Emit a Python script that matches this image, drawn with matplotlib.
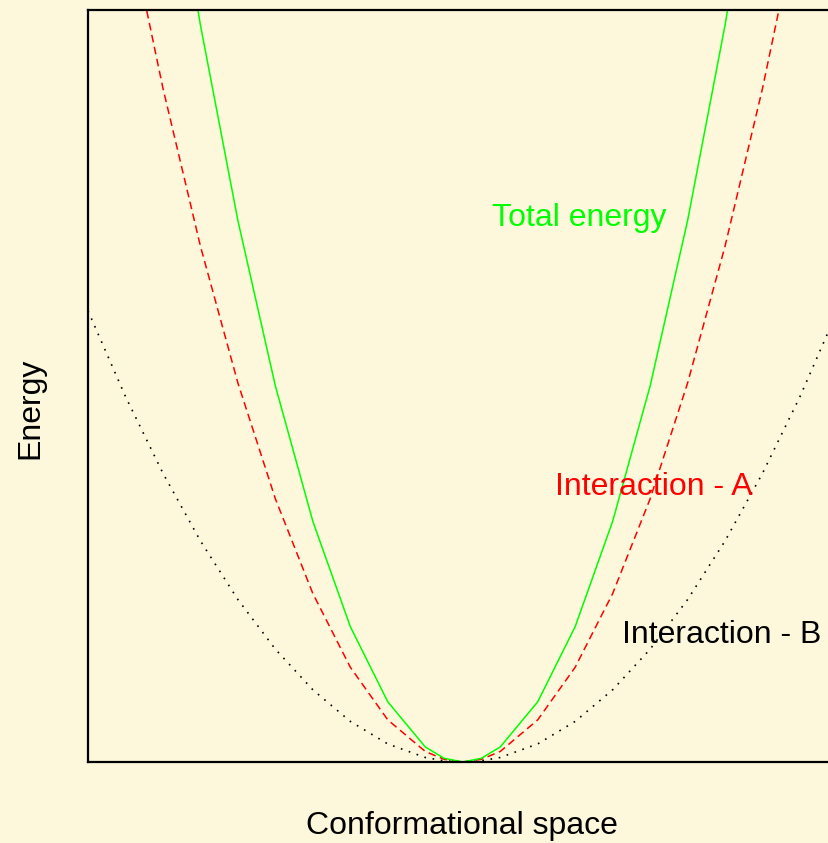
import matplotlib
matplotlib.use('Agg')
import matplotlib.pyplot as plt

plt.rcParams['font.family'] = ['Liberation Sans', 'DejaVu Sans']

# conformational coordinate (sampled steps, denser near the minimum)
conf = [-10, -9, -8, -7, -6, -5, -4, -3, -2, -1, -0.5, 0, 0.5, 1, 2, 3, 4, 5, 6, 7, 8, 9, 10]
total_energy = [100, 81, 64, 49, 36, 25, 16, 9, 4, 1, 0.25, 0, 0.25,
                1, 4, 9, 16, 25, 36, 49, 64, 81, 100]
interaction_a = [70, 56.7, 44.8, 34.3, 25.2, 17.5, 11.2, 6.3, 2.8, 0.7, 0.18, 0, 0.18,
                 0.7, 2.8, 6.3, 11.2, 17.5, 25.2, 34.3, 44.8, 56.7, 70]
interaction_b = [30, 24.3, 19.2, 14.7, 10.8, 7.5, 4.8, 2.7, 1.2, 0.3, 0.08, 0, 0.08,
                 0.3, 1.2, 2.7, 4.8, 7.5, 10.8, 14.7, 19.2, 24.3, 30]

bg = '#fdf8dc'
W, H = 829, 843
fig = plt.figure(figsize=(W / 100, H / 100), dpi=100, facecolor=bg)
# axes box: left 88px, top 10px, bottom 762px, right edge runs off the image
ax = fig.add_axes([88 / W, (H - 762) / H, (837.5 - 88) / W, 752 / H])
ax.set_facecolor(bg)

ax.plot(conf, interaction_b, color='black', linestyle=(0, (1, 4)), linewidth=1.2)
ax.plot(conf, interaction_a, color='#ff0000', linestyle=(0, (5, 3)), linewidth=1.1)
ax.plot(conf, total_energy, color='#00ff00', linewidth=1.1)

ax.set_xlim(-10, 10)
ax.set_ylim(0, 50)
ax.set_xticks([])
ax.set_yticks([])
for s in ax.spines.values():
    s.set_linewidth(1.6)

ax.text(3.1, 36.15, 'Total energy', color='#00ff00', fontsize=23, ha='center', va='center')
ax.text(5.1, 18.27, 'Interaction - A', color='#ff0000', fontsize=23, ha='center', va='center')
ax.text(6.9, 8.43, 'Interaction - B', color='black', fontsize=23, ha='center', va='center')

fig.text(30 / W, 1 - 408 / H, 'Energy', rotation=90, fontsize=23, ha='center', va='center')
fig.text(462 / W, 1 - 826 / H, 'Conformational space', fontsize=23, ha='center', va='center')

fig.savefig('out.png', dpi=100, facecolor=bg)
